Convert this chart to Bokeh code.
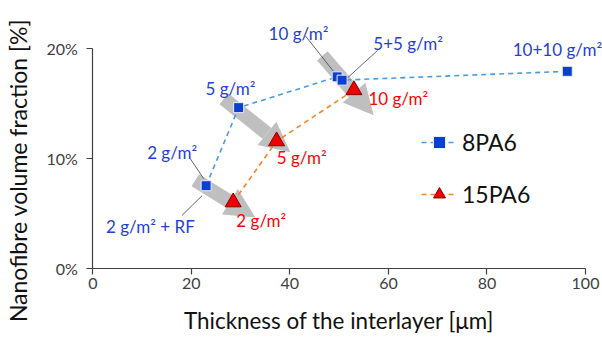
import math
from bokeh.plotting import figure
from bokeh.models import (ColumnDataSource, Range1d, FixedTicker, Arrow, NormalHead,
                          Legend, LegendItem)
from bokeh.core.properties import value
from bokeh.embed import file_html
from bokeh.resources import INLINE

FONT = "Lato"

# 8PA6 series (squares)
pa8_x = [23.0, 29.6, 49.6, 50.6, 96.3]
pa8_y = [7.5, 14.6, 17.4, 17.1, 17.9]
# 15PA6 series (triangles)
pa15_x = [28.5, 37.3, 53.0]
pa15_y = [6.0, 11.55, 16.2]

x_ticks = [0, 20, 40, 60, 80, 100]
y_ticks = [0, 10, 20]
y_tick_labels = {0: "0%", 10: "10%", 20: "20%"}

x_title = "Thickness of the interlayer [μm]"
y_title = "Nanofibre volume fraction [%]"

# annotation texts
lbl_text = ["2 g/m²", "2 g/m² + RF", "5 g/m²", "10 g/m²", "5+5 g/m²", "10+10 g/m²",
            "2 g/m²", "5 g/m²", "10 g/m²"]
lbl_x = [16.1, 11.7, 27.95, 41.75, 64.0, 94.3, 34.2, 42.4, 62.0]
lbl_y = [10.55, 3.75, 16.3, 21.3, 20.4, 19.9, 4.3, 10.1, 15.4]
BLUE_T = "#1f3fd6"
RED_T = "#ff0000"
lbl_col = [BLUE_T] * 6 + [RED_T] * 3

# leader lines
lead_x0 = [19.8, 18.1, 43.2, 57.8]
lead_y0 = [9.95, 4.8, 21.1, 19.8]
lead_x1 = [22.5, 22.2, 49.2, 51.1]
lead_y1 = [8.15, 6.6, 17.7, 17.06]

# grey arrows
arr_x0 = [20.8, 26.6, 46.6]
arr_y0 = [8.0, 15.4, 19.3]
arr_x1 = [33.0, 40.1, 57.0]
arr_y1 = [4.6, 10.55, 13.9]

W, H = 602, 337
# x: 0 -> 92.3 px, 4.927 px per unit ; y: 0 -> 267.7 px, 11.0 px per %
p = figure(width=W, height=H, output_backend="svg", toolbar_location=None,
           x_range=Range1d(-18.73, 103.45), y_range=Range1d(-6.3, 24.34),
           min_border=0)
p.outline_line_color = None
p.xgrid.visible = False
p.ygrid.visible = False
p.background_fill_color = "white"
p.border_fill_color = "white"

AX = "#404040"
for ax in (p.xaxis[0], p.yaxis[0]):
    ax.fixed_location = 0
    ax.axis_line_color = AX
    ax.axis_line_width = 1.2
    ax.major_tick_line_color = AX
    ax.major_tick_line_width = 1.2
    ax.major_tick_in = 0
    ax.major_tick_out = 6
    ax.minor_tick_line_color = None
    ax.major_label_text_font = FONT
    ax.major_label_text_font_size = "16px"
    ax.major_label_text_color = "#404040"

p.xaxis[0].ticker = FixedTicker(ticks=x_ticks)
p.xaxis[0].bounds = (0, 100)
p.xaxis[0].major_label_standoff = 4
p.yaxis[0].ticker = FixedTicker(ticks=y_ticks)
p.yaxis[0].bounds = (0, 20)
p.yaxis[0].major_label_overrides = y_tick_labels
p.yaxis[0].major_label_standoff = 9

# arrows (underneath)
arr_src = ColumnDataSource(dict(x0=arr_x0, y0=arr_y0, x1=arr_x1, y1=arr_y1))
arrow = Arrow(x_start="x0", y_start="y0", x_end="x1", y_end="y1", source=arr_src,
              line_color="#bfbfbf", line_width=14, line_cap="butt",
              end=NormalHead(size=30, fill_color="#bfbfbf", line_color=None),
              level="underlay")
p.add_layout(arrow)

# leader lines
p.segment(x0=lead_x0, y0=lead_y0, x1=lead_x1, y1=lead_y1, line_color="#404040", line_width=0.8)

# series
l8 = p.line(pa8_x, pa8_y, line_color="#4a9be0", line_width=1.6, line_dash="5 4")
s8 = p.scatter(pa8_x, pa8_y, marker="square", size=10, fill_color="#0a3fd0",
               line_color="#e8eefc", line_width=1)
l15 = p.line(pa15_x, pa15_y, line_color="#f58426", line_width=1.6, line_dash="5 4")
s15 = p.scatter(pa15_x, pa15_y, marker="triangle", size=16, fill_color="#ee0000",
                line_color="#8b0000", line_width=1)

# point labels
txt_src = ColumnDataSource(dict(x=lbl_x, y=lbl_y, t=lbl_text, c=lbl_col))
p.text(x="x", y="y", text="t", text_color="c", source=txt_src, text_font=value(FONT),
       text_font_size="17px", text_align="center", text_baseline="middle")

# axis titles (as text in the plot area)
p.text(x=[50.0], y=[-4.75], text=[x_title], text_font=value(FONT), text_font_size="22.4px",
       text_color="#111111", text_align="center", text_baseline="middle")
p.text(x=[-15.08], y=[8.88], text=[y_title], angle=math.pi / 2, text_font=value(FONT),
       text_font_size="23px", text_color="#111111", text_align="center",
       text_baseline="middle")

legend = Legend(items=[LegendItem(label="8PA6", renderers=[l8, s8]),
                       LegendItem(label="15PA6", renderers=[l15, s15])],
                location=(421, 128), padding=0, margin=0, spacing=22,
                glyph_width=36, glyph_height=30, label_height=30, label_standoff=5,
                label_text_font=FONT, label_text_font_size="23px",
                label_text_color="#111111",
                background_fill_alpha=0, border_line_color=None)
p.add_layout(legend)

open("out.html", "w").write(file_html(p, INLINE))
